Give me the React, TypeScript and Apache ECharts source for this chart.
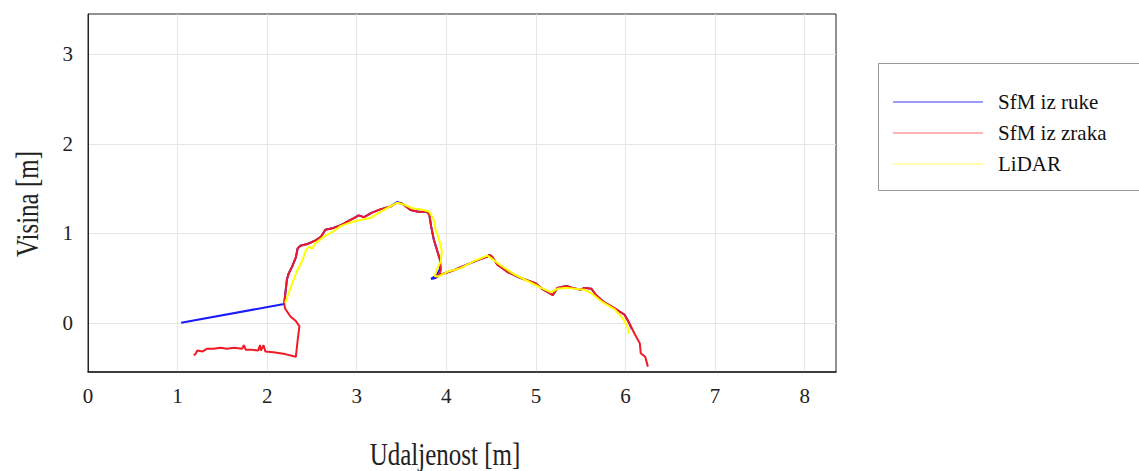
import React, { useEffect, useRef } from "react";
import * as echarts from "echarts";

const seriesNames = ["SfM iz ruke", "SfM iz zraka", "LiDAR"];
const xTicks = [0, 1, 2, 3, 4, 5, 6, 7, 8];
const yTicks = [0, 1, 2, 3];

const sfmRukePoints: [number, number][] = [
  [1.04, 0.0], [2.19, 0.21], [2.22, 0.48], [2.24, 0.55], [2.28, 0.63], [2.32, 0.73],
  [2.34, 0.83], [2.37, 0.86], [2.45, 0.88], [2.54, 0.92], [2.6, 0.96], [2.65, 1.04],
  [2.74, 1.06], [2.82, 1.09], [2.86, 1.11], [2.93, 1.15], [2.97, 1.17], [3.02, 1.2],
  [3.08, 1.18], [3.17, 1.23], [3.27, 1.27], [3.38, 1.3], [3.45, 1.35], [3.51, 1.33],
  [3.6, 1.26], [3.69, 1.24], [3.78, 1.24], [3.81, 1.21], [3.83, 1.08], [3.86, 0.93],
  [3.9, 0.8], [3.93, 0.7], [3.93, 0.6], [3.89, 0.53], [3.83, 0.49], [3.88, 0.5],
  [3.94, 0.54], [4.09, 0.59], [4.23, 0.65], [4.35, 0.7], [4.46, 0.74], [4.48, 0.76],
  [4.51, 0.74], [4.57, 0.65], [4.68, 0.57], [4.83, 0.5], [5.0, 0.44], [5.07, 0.38],
  [5.19, 0.31], [5.24, 0.39], [5.34, 0.41], [5.41, 0.39], [5.5, 0.37], [5.54, 0.39],
  [5.62, 0.38], [5.67, 0.31], [5.76, 0.23], [5.88, 0.16], [5.99, 0.09], [6.04, 0.0],
  [6.07, -0.07],
];

const sfmZrakaPoints: [number, number][] = [
  [1.18, -0.36], [1.2, -0.35], [1.22, -0.31], [1.28, -0.32], [1.33, -0.29], [1.4, -0.29],
  [1.48, -0.28], [1.55, -0.29], [1.63, -0.28], [1.72, -0.29], [1.74, -0.25], [1.76, -0.3],
  [1.81, -0.3], [1.9, -0.31], [1.92, -0.25], [1.93, -0.31], [1.96, -0.25], [1.98, -0.32],
  [2.07, -0.33], [2.2, -0.35], [2.32, -0.38], [2.34, -0.2], [2.36, -0.04], [2.32, 0.02],
  [2.26, 0.07], [2.2, 0.16], [2.19, 0.21], [2.22, 0.48], [2.24, 0.55], [2.28, 0.63],
  [2.32, 0.73], [2.34, 0.83], [2.37, 0.86], [2.45, 0.88], [2.54, 0.92], [2.6, 0.96],
  [2.65, 1.04], [2.74, 1.06], [2.82, 1.09], [2.86, 1.11], [2.93, 1.15], [2.97, 1.17],
  [3.02, 1.2], [3.08, 1.18], [3.17, 1.23], [3.27, 1.27], [3.38, 1.3], [3.45, 1.34],
  [3.51, 1.33], [3.6, 1.26], [3.69, 1.24], [3.78, 1.24], [3.81, 1.21], [3.83, 1.08],
  [3.86, 0.93], [3.9, 0.8], [3.93, 0.7], [3.94, 0.59], [3.92, 0.54], [3.88, 0.51],
  [3.94, 0.54], [4.09, 0.59], [4.23, 0.65], [4.35, 0.7], [4.46, 0.74], [4.48, 0.76],
  [4.51, 0.74], [4.57, 0.65], [4.68, 0.57], [4.83, 0.5], [5.0, 0.44], [5.07, 0.38],
  [5.19, 0.31], [5.24, 0.39], [5.34, 0.41], [5.41, 0.39], [5.5, 0.37], [5.54, 0.39],
  [5.62, 0.38], [5.67, 0.31], [5.76, 0.23], [5.88, 0.16], [5.99, 0.09], [6.04, 0.0],
  [6.1, -0.12], [6.16, -0.23], [6.17, -0.34], [6.22, -0.38], [6.25, -0.49],
];

const lidarPoints: [number, number][] = [
  [2.2, 0.22], [2.24, 0.33], [2.28, 0.44], [2.33, 0.57], [2.39, 0.69], [2.43, 0.8],
  [2.46, 0.85], [2.5, 0.83], [2.54, 0.89], [2.63, 0.96], [2.74, 1.02], [2.82, 1.08],
  [2.93, 1.12], [3.0, 1.14], [3.15, 1.17], [3.23, 1.22], [3.34, 1.28], [3.45, 1.34],
  [3.53, 1.32], [3.62, 1.28], [3.75, 1.26], [3.81, 1.24], [3.86, 1.15], [3.88, 1.04],
  [3.92, 0.93], [3.95, 0.8], [3.94, 0.69], [3.9, 0.61], [3.87, 0.52], [3.92, 0.52],
  [4.01, 0.57], [4.16, 0.61], [4.31, 0.69], [4.46, 0.75], [4.53, 0.7], [4.61, 0.64],
  [4.76, 0.54], [4.94, 0.45], [5.06, 0.39], [5.17, 0.34], [5.24, 0.38], [5.35, 0.39],
  [5.54, 0.37], [5.62, 0.33], [5.73, 0.24], [5.88, 0.15], [5.97, 0.05], [6.02, -0.04],
  [6.04, -0.12],
];

const SERIF = "'Liberation Serif', 'DejaVu Serif', serif";

export default function App() {
  const ref = useRef<HTMLDivElement>(null);
  useEffect(() => {
    if (!ref.current) return;
    const chart = echarts.init(ref.current, undefined, { renderer: "svg" });
    chart.setOption({
      animation: false,
      backgroundColor: "#ffffff",
      grid: {
        left: 88,
        top: 14,
        width: 748,
        height: 358,
        show: true,
        borderColor: "#222",
        borderWidth: 1,
        backgroundColor: "transparent",
      },
      xAxis: {
        type: "value",
        min: 0,
        max: 8.35,
        axisLine: { show: true, onZero: false, lineStyle: { color: "#222", width: 1.5 } },
        axisTick: { show: false, customValues: xTicks },
        axisLabel: {
          customValues: xTicks,
          color: "#222",
          fontSize: 21,
          fontFamily: SERIF,
          margin: 13,
        },
        splitLine: { show: true, lineStyle: { color: "#e6e6e6", width: 1 } },
      },
      yAxis: {
        type: "value",
        min: -0.55,
        max: 3.45,
        axisLine: { show: true, lineStyle: { color: "#222", width: 1 } },
        axisTick: { show: false, customValues: yTicks },
        axisLabel: {
          customValues: yTicks,
          color: "#222",
          fontSize: 21,
          fontFamily: SERIF,
          margin: 15,
        },
        splitLine: { show: true, lineStyle: { color: "#e6e6e6", width: 1 } },
      },
      legend: {
        orient: "vertical",
        left: 888,
        top: 86,
        icon: "rect",
        itemWidth: 90,
        itemHeight: 1.5,
        itemGap: 9,
        textStyle: {
          fontSize: 21,
          fontFamily: SERIF,
          color: "#111",
          lineHeight: 22,
          padding: [0, 0, 0, 10],
        },
        data: [
          { name: seriesNames[0], itemStyle: { color: "#7b7bff" } },
          { name: seriesNames[1], itemStyle: { color: "#ff9a9a" } },
          { name: seriesNames[2], itemStyle: { color: "#ffff90" } },
        ],
      },
      graphic: [
        {
          type: "rect",
          shape: { x: 878.5, y: 63.5, width: 280, height: 127 },
          style: { fill: "none", stroke: "#9a9a9a", lineWidth: 1 },
          silent: true,
        },
        {
          type: "text",
          x: 27,
          y: 204,
          rotation: Math.PI / 2,
          scaleY: 1.3,
          style: {
            text: "Visina [m]",
            fontSize: 25,
            fontFamily: SERIF,
            fill: "#222",
            align: "center",
            verticalAlign: "middle",
          },
        },
        {
          type: "text",
          x: 445,
          y: 454,
          scaleY: 1.3,
          style: {
            text: "Udaljenost [m]",
            fontSize: 25,
            fontFamily: SERIF,
            fill: "#222",
            align: "center",
            verticalAlign: "middle",
          },
        },
      ],
      series: [
        {
          name: seriesNames[0],
          type: "line",
          data: sfmRukePoints,
          symbol: "none",
          lineStyle: { color: "#1a1aff", width: 2 },
          itemStyle: { color: "#1a1aff" },
          z: 2,
        },
        {
          name: seriesNames[1],
          type: "line",
          data: sfmZrakaPoints,
          symbol: "none",
          lineStyle: { color: "#f01a24", width: 2 },
          itemStyle: { color: "#f01a24" },
          z: 3,
        },
        {
          name: seriesNames[2],
          type: "line",
          data: lidarPoints,
          symbol: "none",
          lineStyle: { color: "#ffff00", width: 2 },
          itemStyle: { color: "#ffff00" },
          z: 4,
        },
      ],
    });
    return () => chart.dispose();
  }, []);
  return (
    <div
      ref={ref}
      style={{ position: "fixed", left: 0, top: 0, width: 1139, height: 471 }}
    />
  );
}
